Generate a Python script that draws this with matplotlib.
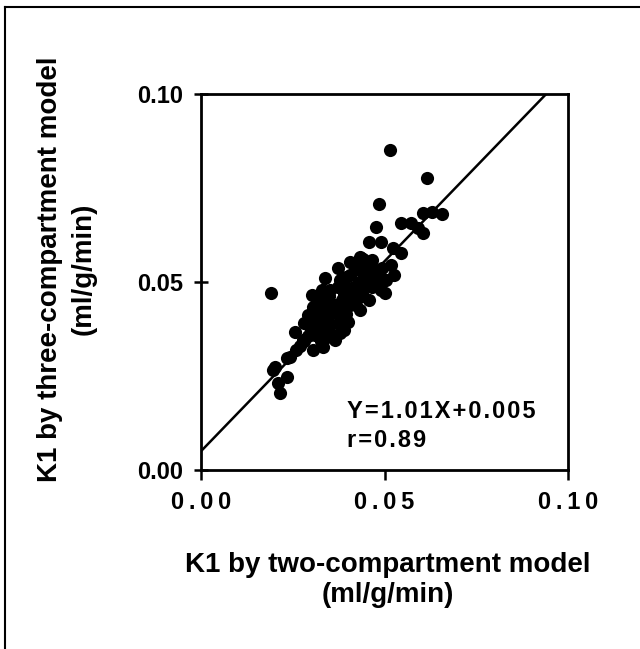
import numpy as np
import matplotlib.pyplot as plt
from matplotlib.lines import Line2D

# K1 values (ml/g/min)
k1_two = [0.0514, 0.0616, 0.0485, 0.0190, 0.0657, 0.0630, 0.0604, 0.0545, 0.0573,
          0.0477, 0.0604, 0.0590, 0.0459, 0.0491, 0.0523, 0.0545, 0.0437, 0.0527,
          0.0491, 0.0500, 0.0519, 0.0432, 0.0373, 0.0337, 0.0405, 0.0465, 0.0492,
          0.0503, 0.0481, 0.0459, 0.0432, 0.0400, 0.0378, 0.0332, 0.0305, 0.0296,
          0.0278, 0.0260, 0.0233, 0.0201, 0.0196, 0.0210, 0.0215, 0.0233, 0.0242,
          0.0323, 0.0351, 0.0378, 0.0405, 0.0432, 0.0391, 0.0418, 0.0446, 0.0364,
          0.0337, 0.0318, 0.0351, 0.0378, 0.0405, 0.0310, 0.0337, 0.0291, 0.0302,
          0.0329, 0.0446, 0.0473, 0.0424, 0.0391, 0.0364, 0.0269,
          0.0280, 0.0304, 0.0256, 0.0304, 0.0328, 0.0280, 0.0326, 0.0350, 0.0302,
          0.0351, 0.0375, 0.0327, 0.0372, 0.0396, 0.0348, 0.0397, 0.0421, 0.0373,
          0.0418, 0.0442, 0.0394, 0.0443, 0.0467, 0.0419, 0.0465, 0.0489, 0.0441,
          0.0292, 0.0315, 0.0327, 0.0303, 0.0338, 0.0326, 0.0361, 0.0373, 0.0349,
          0.0385, 0.0397, 0.0408, 0.0420, 0.0396, 0.0431, 0.0443, 0.0454, 0.0466,
          0.0442]
k1_three = [0.0851, 0.0776, 0.0707, 0.0470, 0.0680, 0.0686, 0.0683, 0.0656, 0.0656,
            0.0645, 0.0630, 0.0644, 0.0607, 0.0607, 0.0590, 0.0576, 0.0563, 0.0519,
            0.0479, 0.0470, 0.0545, 0.0567, 0.0536, 0.0510, 0.0553, 0.0559, 0.0537,
            0.0505, 0.0492, 0.0452, 0.0426, 0.0394, 0.0364, 0.0328, 0.0434, 0.0381,
            0.0346, 0.0319, 0.0297, 0.0275, 0.0266, 0.0231, 0.0204, 0.0248, 0.0301,
            0.0452, 0.0479, 0.0505, 0.0519, 0.0532, 0.0465, 0.0479, 0.0492, 0.0439,
            0.0412, 0.0386, 0.0386, 0.0412, 0.0439, 0.0359, 0.0351, 0.0412, 0.0465,
            0.0479, 0.0532, 0.0519, 0.0457, 0.0372, 0.0346, 0.0330,
            0.0344, 0.0320, 0.0368, 0.0368, 0.0344, 0.0392, 0.0392, 0.0368, 0.0416,
            0.0416, 0.0392, 0.0440, 0.0440, 0.0416, 0.0464, 0.0464, 0.0440, 0.0488,
            0.0488, 0.0464, 0.0512, 0.0512, 0.0488, 0.0536, 0.0536, 0.0512, 0.0560,
            0.0356, 0.0380, 0.0368, 0.0392, 0.0404, 0.0416, 0.0428, 0.0416, 0.0440,
            0.0452, 0.0440, 0.0476, 0.0464, 0.0488, 0.0500, 0.0488, 0.0524, 0.0512,
            0.0536]

# regression line
slope = 1.01
intercept = 0.005

ticks = [0.0, 0.05, 0.10]
y_ticklabels = ["0.00", "0.05", "0.10"]
ts = "\u2009"
hs = "\u200a"
x_ticklabels = [ts.join("0.00"), ts.join("0.05"), ts.join("0.10")]

fam = ['Liberation Sans', 'DejaVu Sans']

fig = plt.figure(figsize=(6.4, 6.49), dpi=100)
ax = fig.add_axes([201/640, 1 - 470/649, 367/640, 376/649])

ax.scatter(k1_two, k1_three, s=90, color='black', zorder=3, linewidths=0)

xl = np.array([0.0, 0.1])
ax.plot(xl, slope * xl + intercept, color='black', lw=1.8, zorder=2)

ax.set_xlim(0, 0.1)
ax.set_ylim(0, 0.1)
ax.set_xticks(ticks)
ax.set_yticks(ticks)
ax.set_xticklabels(x_ticklabels, family=fam, fontweight='bold', fontsize=17)
ax.set_yticklabels(y_ticklabels, family=fam, fontweight='bold', fontsize=17)
ax.tick_params(axis='x', direction='out', length=7, width=1.8, pad=8)
ax.tick_params(axis='y', direction='inout', length=10, width=1.8, pad=8)
for s in ax.spines.values():
    s.set_linewidth(2)

ax.text(146/367, 52/376, hs.join("Y=1.01X+0.005"),
        transform=ax.transAxes, family=fam, fontweight='bold', fontsize=17, va='baseline')
ax.text(146/367, 23/376, hs.join("r=0.89"),
        transform=ax.transAxes, family=fam, fontweight='bold', fontsize=17, va='baseline')

fig.text(388/640, 1 - 580/649, "K1 by two-compartment model\n(ml/g/min)",
         ha='center', va='center', multialignment='center', linespacing=1.2,
         family=fam, fontweight='bold', fontsize=20)
fig.text(67/640, 1 - 269/649, "K1 by three-compartment model\n(ml/g/min)",
         ha='center', va='center', multialignment='center', rotation=90, linespacing=1.35,
         family=fam, fontweight='bold', fontsize=20)

# outer frame (only left and top edges visible)
fig.add_artist(Line2D([5/640, 5/640], [0, 1 - 7/649], color='black', lw=1.5, transform=fig.transFigure))
fig.add_artist(Line2D([5/640, 1], [1 - 7/649, 1 - 7/649], color='black', lw=1.5, transform=fig.transFigure))

fig.savefig("out.png", dpi=100)
